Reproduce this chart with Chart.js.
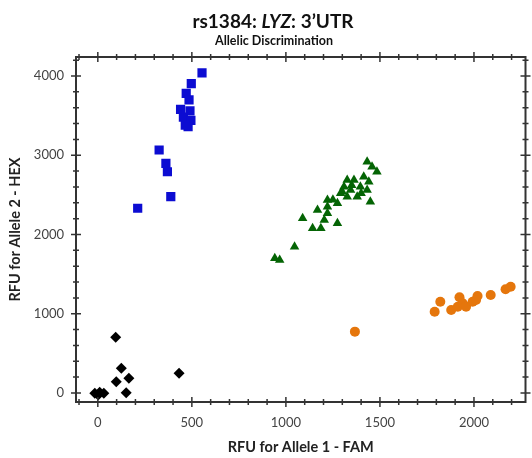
<!DOCTYPE html>
<html>
<head>
<meta charset="utf-8">
<script src="https://cdn.jsdelivr.net/npm/chart.js@4/dist/chart.umd.min.js"></script>
<style>
  html, body { margin: 0; padding: 0; background: #fff; }
  #wrap { width: 532px; height: 458px; }
</style>
</head>
<body>
<div id="wrap"><canvas id="alleleChart"></canvas></div>
<script>
// allele 2 homozygous (HEX)
const hexX = [554, 497, 470, 485, 440, 490, 455, 495, 465, 480, 326, 362, 370, 388, 212];
const hexY = [4040, 3905, 3780, 3700, 3580, 3560, 3480, 3440, 3380, 3360, 3066, 2898, 2792, 2477, 2331];

// heterozygous
const hetX = [1432, 1458, 1484, 1326, 1362, 1414, 1441, 1309, 1344, 1396, 1432, 1291, 1326, 1379, 1449, 1221,
              1274, 1221, 1168, 1221, 1204, 1089, 1274, 1142, 1186, 1046, 941, 967, 1300, 1350, 1250, 1400];
const hetY = [2919, 2856, 2792, 2687, 2687, 2729, 2666, 2603, 2562, 2603, 2562, 2520, 2477, 2477, 2414, 2435,
              2394, 2351, 2309, 2267, 2183, 2204, 2141, 2078, 2078, 1846, 1700, 1678, 2540, 2620, 2440, 2520];

// allele 1 homozygous (FAM)
const famX = [1367, 1791, 1821, 1879, 1923, 1914, 1940, 1958, 1993, 2019, 2011, 2089, 2168, 2195];
const famY = [774, 1026, 1152, 1047, 1208, 1089, 1132, 1089, 1152, 1224, 1173, 1237, 1308, 1341];

// no template / undetermined
const ntcX = [95, 125, 98, 165, 151, 432, -16, 2, 32, 10];
const ntcY = [703, 312, 143, 185, 4, 249, -4, -25, -4, 10];

// axes: labelled ticks and minor tick spacing
const xRange = [-116, 2274];
const yRange = [-114, 4240];
const xLabels = [0, 500, 1000, 1500, 2000];
const yLabels = [0, 1000, 2000, 3000, 4000];
const xMinorStep = 100;
const yMinorStep = 200;

const zip = (xs, ys) => xs.map((x, i) => ({ x: x, y: ys[i] }));
const stepTicks = (range, step) => {
  const out = [];
  for (let v = Math.ceil(range[0] / step) * step; v <= range[1]; v += step) out.push({ value: v });
  return out;
};

// title with italic gene name
const titlePlugin = {
  id: 'titlePlugin',
  afterDraw(chart) {
    const ctx = chart.ctx;
    const parts = [
      { t: 'rs1384: ', f: 'bold 19px Lato' },
      { t: 'LYZ', f: 'italic bold 19px Lato' },
      { t: ': 3\u2019UTR', f: 'bold 19px Lato' }
    ];
    ctx.save();
    ctx.fillStyle = '#111';
    ctx.textBaseline = 'middle';
    let total = 0;
    parts.forEach(p => { ctx.font = p.f; p.w = ctx.measureText(p.t).width; total += p.w; });
    let x = 273 - total / 2;
    parts.forEach(p => { ctx.font = p.f; ctx.fillText(p.t, x, 22); x += p.w; });
    ctx.font = 'bold 12.5px Lato';
    ctx.textAlign = 'center';
    ctx.fillText('Allelic Discrimination', 274, 41);
    ctx.restore();
  }
};

// frame with crossing major/minor ticks on all four sides
const framePlugin = {
  id: 'framePlugin',
  afterDatasetsDraw(chart) {
    const { ctx, chartArea: a, scales: { x, y } } = chart;
    ctx.save();
    ctx.strokeStyle = '#333';
    ctx.lineWidth = 2;
    ctx.strokeRect(a.left, a.top, a.right - a.left, a.bottom - a.top);
    ctx.lineWidth = 1.5;
    ctx.beginPath();
    x.ticks.forEach(t => {
      const px = x.getPixelForValue(t.value);
      const len = xLabels.includes(t.value) ? 5 : 3;
      ctx.moveTo(px, a.bottom - len); ctx.lineTo(px, a.bottom + len);
      ctx.moveTo(px, a.top - len); ctx.lineTo(px, a.top + len);
    });
    y.ticks.forEach(t => {
      const py = y.getPixelForValue(t.value);
      const len = yLabels.includes(t.value) ? 5 : 3;
      ctx.moveTo(a.left - len, py); ctx.lineTo(a.left + len, py);
      ctx.moveTo(a.right - len, py); ctx.lineTo(a.right + len, py);
    });
    ctx.stroke();
    ctx.restore();
  }
};

const tickFont = { family: 'Lato', size: 13 };
const axisTitleFont = { family: 'Lato', size: 14.5, weight: 'bold' };

new Chart(document.getElementById('alleleChart'), {
  type: 'scatter',
  data: {
    datasets: [
      { label: 'Allele 2', data: zip(hexX, hexY), pointStyle: 'rect', pointRadius: 6.5,
        backgroundColor: '#0c0cd2', borderColor: '#0c0cd2', borderWidth: 0 },
      { label: 'Both', data: zip(hetX, hetY), pointStyle: 'triangle', pointRadius: 5.5,
        backgroundColor: '#046404', borderColor: '#046404', borderWidth: 0 },
      { label: 'Allele 1', data: zip(famX, famY), pointStyle: 'circle', pointRadius: 5,
        backgroundColor: '#e5760c', borderColor: '#e5760c', borderWidth: 0 },
      { label: 'Undetermined', data: zip(ntcX, ntcY), pointStyle: 'rectRot', pointRadius: 5.5,
        backgroundColor: '#000', borderColor: '#000', borderWidth: 0 }
    ]
  },
  options: {
    responsive: true,
    maintainAspectRatio: false,
    animation: false,
    layout: { padding: { top: 57, right: 2, left: 0, bottom: 0 } },
    plugins: { legend: { display: false }, tooltip: { enabled: false } },
    scales: {
      x: {
        type: 'linear', min: xRange[0], max: xRange[1],
        afterBuildTicks(s) { s.ticks = stepTicks(xRange, xMinorStep); },
        afterFit(s) { s.height = 56; },
        grid: { display: false, drawTicks: false },
        border: { display: false },
        ticks: { autoSkip: false, maxRotation: 0, padding: 13, color: '#444', font: tickFont,
                 callback: v => (xLabels.includes(v) ? String(v) : '') },
        title: { display: true, text: 'RFU for Allele 1 - FAM', color: '#222', font: axisTitleFont,
                 padding: { top: 0, bottom: 2 } }
      },
      y: {
        type: 'linear', min: yRange[0], max: yRange[1],
        afterBuildTicks(s) { s.ticks = stepTicks(yRange, yMinorStep); },
        afterFit(s) { s.width = 76; },
        grid: { display: false, drawTicks: false },
        border: { display: false },
        ticks: { autoSkip: false, padding: 12, color: '#444', font: tickFont,
                 callback: v => (yLabels.includes(v) ? String(v) : '') },
        title: { display: true, text: 'RFU for Allele 2 - HEX', color: '#222', font: axisTitleFont,
                 padding: { top: 7, bottom: 0 } }
      }
    }
  },
  plugins: [framePlugin, titlePlugin]
});
</script>
</body>
</html>
